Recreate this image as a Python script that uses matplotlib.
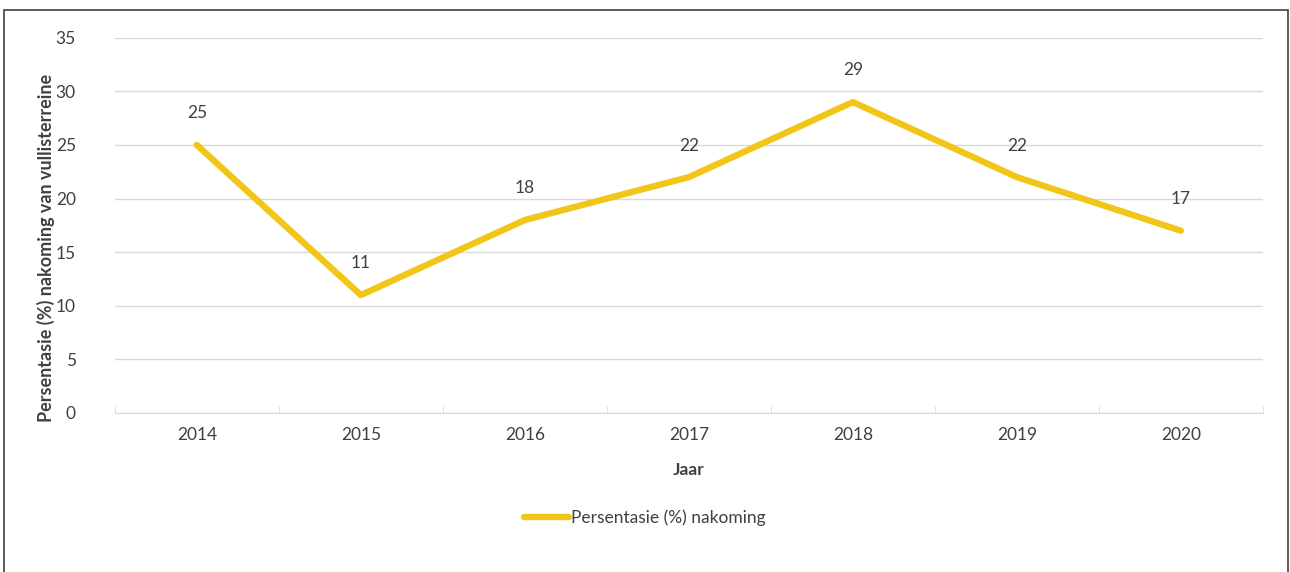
import matplotlib.pyplot as plt
from matplotlib.patches import Rectangle

years = ['2014', '2015', '2016', '2017', '2018', '2019', '2020']
nakoming = [25, 11, 18, 22, 29, 22, 17]
y_ticks = [0, 5, 10, 15, 20, 25, 30, 35]

plt.rcParams['font.family'] = ['Lato', 'DejaVu Sans']

fig = plt.figure(figsize=(12.9, 5.72), dpi=100)
ax = fig.add_axes([0.089, 0.278, 0.890, 0.656])

x = list(range(len(years)))
ax.plot(x, nakoming, color='#F2C519', linewidth=4.6, solid_joinstyle='round',
        solid_capstyle='round', label='Persentasie (%) nakoming', zorder=3)

for xi, v in zip(x, nakoming):
    ax.annotate(str(v), (xi, v), xytext=(0, 17), textcoords='offset points',
                ha='center', va='bottom', fontsize=12.5, color='#404040')

ax.set_xlim(-0.5, len(years) - 0.5)
ax.set_ylim(0, 35)
ax.set_yticks(y_ticks)
ax.set_xticks(x)
ax.set_xticklabels(years)
ax.grid(axis='y', color='#d9d9d9', linewidth=1)
ax.set_axisbelow(True)
for s in ['top', 'right', 'left']:
    ax.spines[s].set_visible(False)
ax.spines['bottom'].set_color('#d9d9d9')
ax.tick_params(axis='y', length=0, pad=28, labelsize=12.5, labelcolor='#404040')
ax.tick_params(axis='x', length=0, pad=10, labelsize=12.5, labelcolor='#404040')
# minor ticks at category boundaries on the baseline
ax.set_xticks([i - 0.5 for i in range(len(years) + 1)], minor=True)
ax.tick_params(axis='x', which='minor', length=5, color='#d9d9d9', direction='in')

ax.set_xlabel('Jaar', fontsize=12.5, fontweight='bold', color='#404040', labelpad=14)
ax.set_ylabel('Persentasie (%) nakoming van vullisterreine', fontsize=13,
              fontweight='bold', color='#404040', labelpad=12)
ax.yaxis.set_label_coords(-0.052, 0.44)

ax.legend(loc='center', bbox_to_anchor=(0.5, 0.095), bbox_transform=fig.transFigure,
          frameon=False, fontsize=12.5, handlelength=2.6, handletextpad=0.1,
          labelcolor='#404040')

fig.patches.append(Rectangle((4 / 1290, -0.01), 1284 / 1290, 1 - 10 / 572 + 0.01,
                             transform=fig.transFigure, fill=False,
                             edgecolor='#404040', linewidth=1.2))

fig.savefig('out.png', dpi=100)
